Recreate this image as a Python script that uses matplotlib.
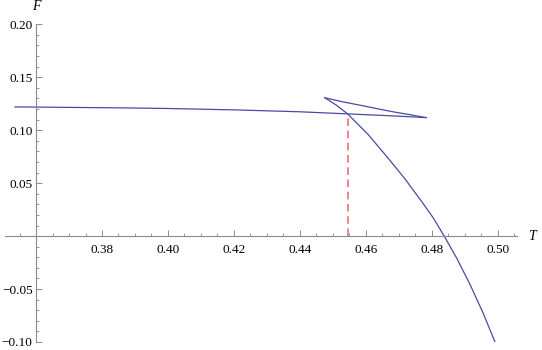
import matplotlib
matplotlib.use("Agg")
import matplotlib.pyplot as plt
from matplotlib.ticker import MultipleLocator, FuncFormatter

# Data
T_small = [0.3536, 0.3855, 0.40, 0.42, 0.44, 0.4545, 0.4683, 0.4783]
F_small = [0.1220, 0.1211, 0.1205, 0.1192, 0.1174, 0.1154, 0.1135, 0.1119]

T_mid = [0.4783, 0.4735, 0.4684, 0.4633, 0.4583, 0.4530, 0.4476]
F_mid = [0.1119, 0.1146, 0.1173, 0.1204, 0.1236, 0.1268, 0.1306]

T_large = [0.4476, 0.4510, 0.4545, 0.4607, 0.4668, 0.4719, 0.4771, 0.4804,
           0.4838, 0.4877, 0.4916, 0.4955, 0.4992]
F_large = [0.1306, 0.1238, 0.1154, 0.0960, 0.0735, 0.0540, 0.0320, 0.0175,
           0.0, -0.0215, -0.0455, -0.0720, -0.100]

T_c = 0.4545
F_c = 0.1154

x_ticks = [0.38, 0.40, 0.42, 0.44, 0.46, 0.48, 0.50]
y_ticks = [-0.10, -0.05, 0.05, 0.10, 0.15, 0.20]

plt.rcParams['font.family'] = ['Liberation Serif', 'DejaVu Serif']
plt.rcParams['mathtext.fontset'] = 'stix'

fig = plt.figure(figsize=(5.42, 3.50), dpi=100)
ax = fig.add_axes([5/542, 8/350, 512/542, (342-24.3)/350])
ax.set_xlim(0.35058, 0.50587)
ax.set_ylim(-0.10, 0.20)

curve_color = '#4a4aa6'
ax.plot(T_small, F_small, color=curve_color, lw=0.9)
ax.plot(T_mid, F_mid, color=curve_color, lw=0.9)
ax.plot(T_large, F_large, color=curve_color, lw=0.9)
ax.plot([T_c, T_c], [0, F_c], color='#f06070', lw=1.1, dashes=(5, 3))

gray = '#8a8a8a'
for s in ['top', 'right']:
    ax.spines[s].set_visible(False)
ax.spines['left'].set_position(('data', 0.36))
ax.spines['bottom'].set_position(('data', 0.0))
for s in ['left', 'bottom']:
    ax.spines[s].set_color(gray)
    ax.spines[s].set_linewidth(0.8)

ax.set_xticks(x_ticks)
ax.set_yticks(y_ticks)
ax.xaxis.set_minor_locator(MultipleLocator(0.005))
ax.yaxis.set_minor_locator(MultipleLocator(0.01))
ax.xaxis.set_major_formatter(FuncFormatter(lambda v, p: f"{v:.2f}"))
ax.yaxis.set_major_formatter(FuncFormatter(lambda v, p: f"{v:.2f}".replace('-', '\u2212')))
ax.tick_params(which='major', direction='in', length=4.5, width=0.7, color=gray,
               labelsize=9.5, labelcolor='black')
ax.tick_params(axis='x', which='major', pad=6)
ax.tick_params(axis='y', which='major', pad=2.5)
ax.tick_params(which='minor', direction='in', length=2.5, width=0.6, color=gray)

ax.annotate('F', xy=(0.36, 0.20), xytext=(0, 8), textcoords='offset points',
            ha='center', va='bottom', fontsize=10, style='italic')
ax.annotate('T', xy=(0.50587, 0.0), xytext=(8, 0), textcoords='offset points',
            ha='left', va='center', fontsize=10, style='italic')

fig.savefig('out.png', dpi=100)
